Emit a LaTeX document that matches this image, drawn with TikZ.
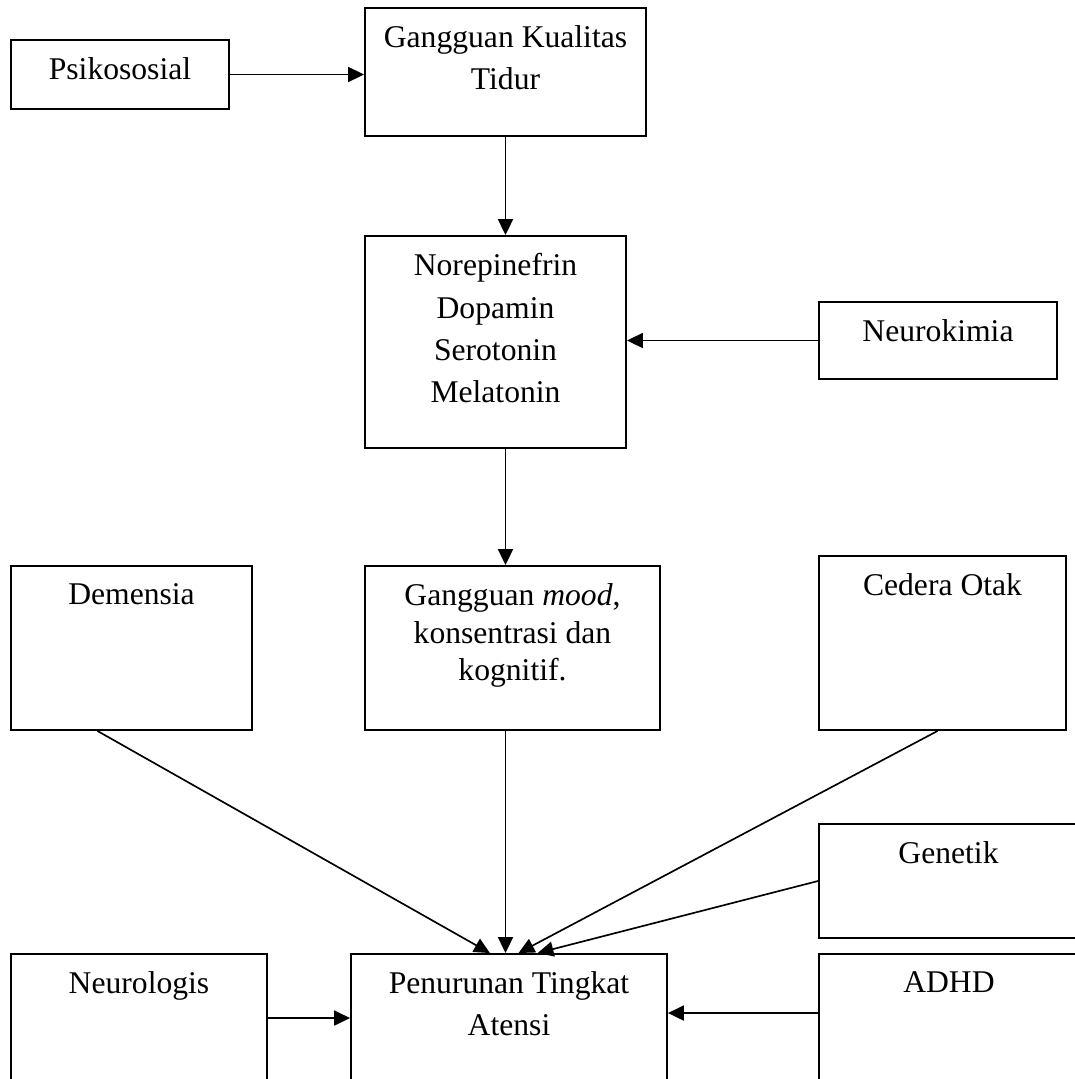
\documentclass[tikz,border=0pt]{standalone}
\usepackage{fontspec}
\setmainfont{Liberation Serif}
\usetikzlibrary{arrows.meta, positioning, fit, calc}

\begin{document}
\begin{tikzpicture}[
  x=0.02cm, y=-0.02cm,
  font=\fontsize{18}{24.1}\selectfont,
  box/.style={draw, line width=1.1pt, inner sep=0pt},
  txt/.style={anchor=north, yshift=-10.4pt, inner sep=0pt, align=center},
  arrow/.style={-{Triangle[length=9pt, width=8.5pt]}, line width=0.95pt}
]
\clip (0,0) rectangle (1075,1079);

\node[box, fit={(11,40) (229,109)}, label={[txt]north:Psikososial}] (psiko) {};
\node[box, fit={(365,8) (646,136)},
  label={[txt]north:Gangguan Kualitas\\Tidur}] (kualitas) {};
\node[box, fit={(365,236) (626,448)},
  label={[txt]north:Norepinefrin\\Dopamin\\Serotonin\\Melatonin}] (neuro) {};
\node[box, fit={(819,302) (1057,379)}, label={[txt]north:Neurokimia}] (kimia) {};
\node[box, fit={(11,566) (252,730)}, label={[txt]north:Demensia}] (demensia) {};
\node[box, fit={(365,566) (660,730)},
  label={[txt, font=\fontsize{18}{21.3}\selectfont]north:Gangguan \textit{mood},\\konsentrasi dan\\kognitif.}] (mood) {};
\node[box, fit={(819,556) (1066,730)}, label={[txt]north:Cedera Otak}] (cedera) {};
\node[box, fit={(819,824) (1078,938)}, label={[txt]north:Genetik}] (genetik) {};
\node[box, fit={(11,954) (267,1110)}, label={[txt]north:Neurologis}] (neurologis) {};
\node[box, fit={(351,954) (667,1110)},
  label={[txt]north:Penurunan Tingkat\\Atensi}] (atensi) {};
\node[box, fit={(819,954) (1079,1110)}, label={[txt]north:ADHD}] (adhd) {};

\draw[arrow] (psiko.east) -- (psiko.east -| kualitas.west);
\draw[arrow] (kualitas.south) -- (kualitas.south |- neuro.north);
\draw[arrow] (kimia.west) -- (kimia.west -| neuro.east);
\draw[arrow] (neuro.south -| kualitas.south) -- (mood.north -| kualitas.south);
\draw[arrow] (mood.south -| kualitas.south) -- (atensi.north -| kualitas.south);
\draw[arrow] ($(demensia.south west)!0.36!(demensia.south east)$)
  -- ($(atensi.north west)!0.44!(atensi.north east)$);
\draw[arrow] ($(cedera.south west)!0.48!(cedera.south east)$)
  -- ($(atensi.north west)!0.53!(atensi.north east)$);
\draw[arrow] (genetik.west) -- ($(atensi.north west)!0.59!(atensi.north east)$);
\draw[arrow] ($(neurologis.north east)+(0,65)$) coordinate (n1) -- (n1 -| atensi.west);
\draw[arrow] ($(adhd.north west)+(0,60)$) coordinate (a1) -- (a1 -| atensi.east);
\end{tikzpicture}
\end{document}
